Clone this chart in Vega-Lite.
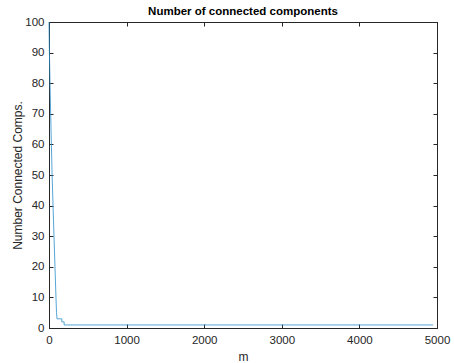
{
  "$schema": "https://vega.github.io/schema/vega-lite/v6.json",
  "width": 388,
  "height": 306,
  "autosize": "none",
  "padding": {"left": 49, "top": 22, "right": 17, "bottom": 35},
  "background": "white",
  "title": {"text": "Number of connected components", "font": "Liberation Sans", "fontSize": 11.5, "fontWeight": "bold", "color": "#000000", "offset": -1},
  "config": {
    "view": {"stroke": "#262626", "strokeWidth": 1},
    "axis": {"labelFont": "Liberation Sans", "titleFont": "Liberation Sans", "labelFontSize": 11.5, "titleFontSize": 12, "titleFontWeight": "normal", "labelColor": "#262626", "titleColor": "#262626", "domainColor": "#262626", "tickColor": "#262626", "grid": false, "tickSize": -4, "labelFlush": false, "labelOverlap": false}
  },
  "data": {"values": [
    {"m": 0, "c": 100},
    {"m": 4, "c": 92},
    {"m": 13, "c": 80},
    {"m": 26, "c": 65},
    {"m": 40, "c": 50},
    {"m": 58, "c": 35},
    {"m": 77, "c": 20},
    {"m": 90, "c": 10},
    {"m": 97, "c": 5},
    {"m": 103, "c": 3},
    {"m": 165, "c": 3},
    {"m": 165, "c": 2},
    {"m": 195, "c": 2},
    {"m": 195, "c": 1},
    {"m": 4950, "c": 1}
  ]},
  "layer": [
    {
      "mark": {"type": "line", "color": "#2a8fcc", "strokeWidth": 0.8},
      "encoding": {
        "x": {"field": "m", "type": "quantitative", "scale": {"domain": [0, 5000], "nice": false}, "axis": {"title": "m", "format": "d", "tickCount": 5, "labelPadding": 10, "titlePadding": 6}},
        "y": {"field": "c", "type": "quantitative", "scale": {"domain": [0, 100], "nice": false}, "axis": {"title": "Number Connected Comps.", "format": "d", "tickCount": 10, "labelPadding": 9, "titlePadding": 0}},
        "order": {"field": "m"}
      }
    },
    {
      "mark": {"type": "line", "opacity": 0},
      "encoding": {
        "x": {"field": "m", "type": "quantitative", "axis": {"orient": "top", "labels": false, "title": null, "tickCount": 5}},
        "y": {"field": "c", "type": "quantitative", "axis": {"orient": "right", "labels": false, "title": null, "tickCount": 10}}
      }
    }
  ],
  "resolve": {"axis": {"x": "independent", "y": "independent"}}
}
